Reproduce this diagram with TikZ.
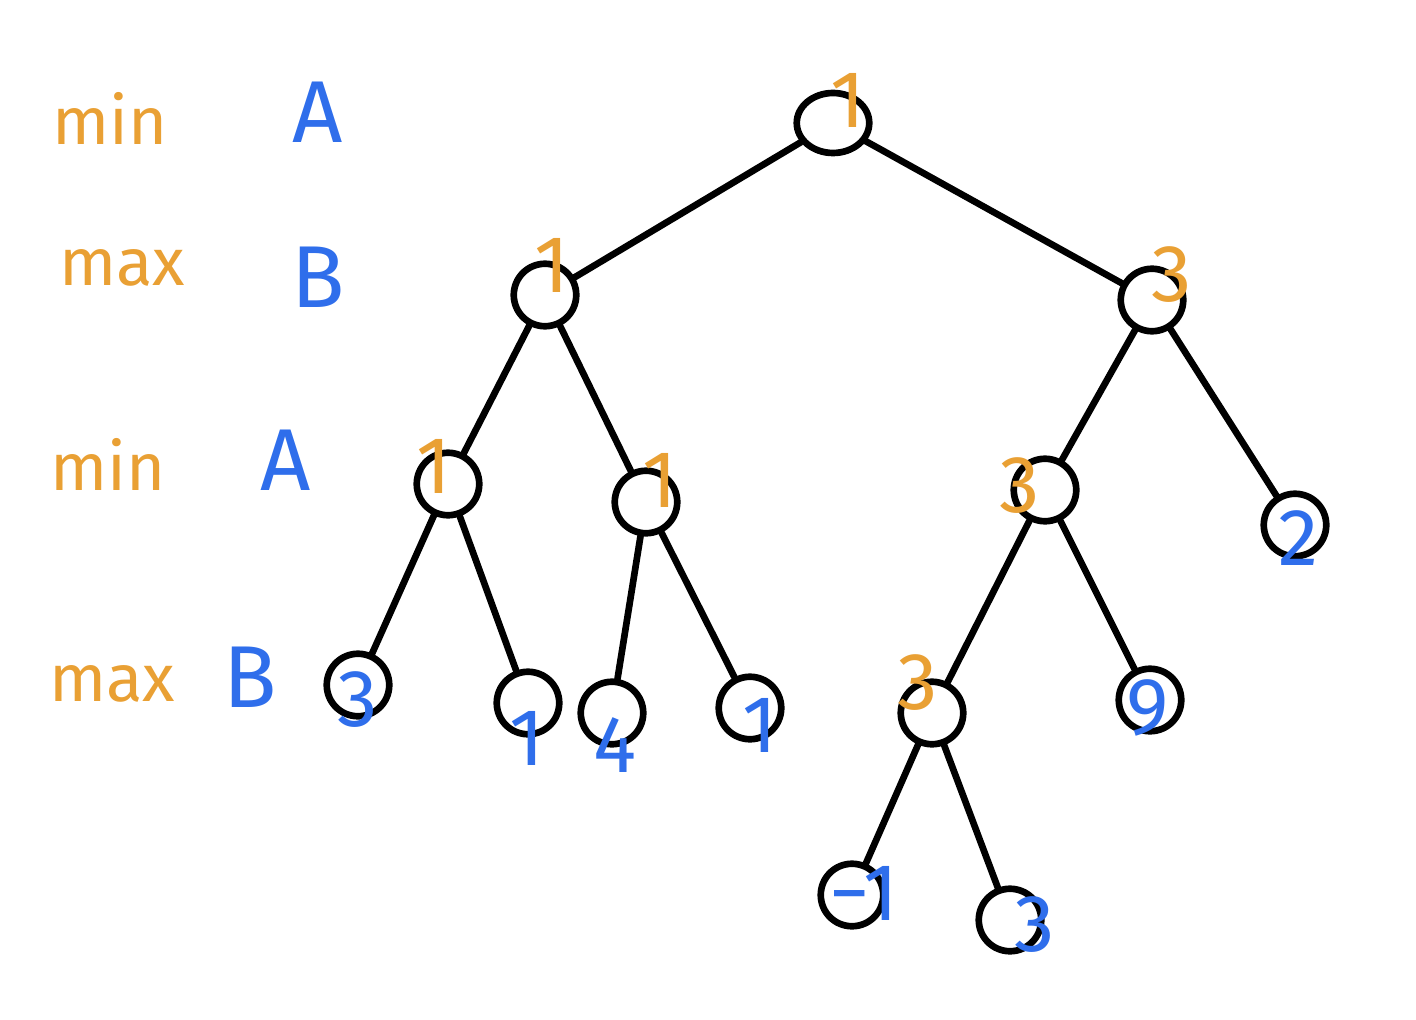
\documentclass[tikz,border=0pt]{standalone}
\usepackage{fontspec}
\setmainfont{Fira Sans}
\usepackage{xcolor}
\usetikzlibrary{positioning,shapes.geometric}
\definecolor{MinMaxOrange}{RGB}{233,160,52}
\definecolor{LeafBlue}{RGB}{47,110,235}

\begin{document}
\begin{tikzpicture}[
  x=0.02cm, y=-0.02cm,
  line width=3.8pt,
  state/.style={draw, circle, minimum size=1.25cm, inner sep=0pt},
  edge/.style={draw, line cap=round},
  lvl/.style={text=MinMaxOrange, font=\fontsize{38}{40}\selectfont},
  who/.style={text=LeafBlue, font=\fontsize{50}{52}\selectfont},
  val/.style={text=MinMaxOrange, font=\fontsize{46}{48}\selectfont},
  leafval/.style={text=LeafBlue, font=\fontsize{46}{48}\selectfont},
]
  \useasboundingbox (0,0) rectangle (1416,1020);

  % level labels
  \node[lvl] (l0) at (110,118) {min};
  \node[who] (p0) at (318,112) {A};
  \node[lvl] (l1) at (122,268) {max};
  \node[who] (p1) at (318,277) {B};
  \node[lvl] (l2) at (108,464) {min};
  \node[who] (p2) at (286,460) {A};
  \node[lvl] (l3) at (112,684) {max};
  \node[who] (p3) at (250,677) {B};

  % tree
  \node[state, ellipse, minimum width=1.45cm, minimum height=1.2cm] (root) at (833,123) {};
  \node[state] (b1) at (545,295) {};
  \node[state] (b2) at (1152,300) {};
  \node[state] (a1) at (448,484) {};
  \node[state] (a2) at (646,502) {};
  \node[state] (a3) at (1045,490) {};
  \node[state] (t2) at (1295,525) {};
  \node[state] (t3) at (358,685) {};
  \node[state] (t1) at (528,703) {};
  \node[state] (t4) at (612,713) {};
  \node[state] (t1b) at (750,708) {};
  \node[state] (b3) at (932,713) {};
  \node[state] (t9) at (1150,700) {};
  \node[state] (tm1) at (852,895) {};
  \node[state] (t3b) at (1010,920) {};

  \draw[edge] (root) -- (b1);
  \draw[edge] (root) -- (b2);
  \draw[edge] (b1) -- (a1);
  \draw[edge] (b1) -- (a2);
  \draw[edge] (b2) -- (a3);
  \draw[edge] (b2) -- (t2);
  \draw[edge] (a1) -- (t3);
  \draw[edge] (a1) -- (t1);
  \draw[edge] (a2) -- (t4);
  \draw[edge] (a2) -- (t1b);
  \draw[edge] (a3) -- (b3);
  \draw[edge] (a3) -- (t9);
  \draw[edge] (b3) -- (tm1);
  \draw[edge] (b3) -- (t3b);

  % backed-up values
  \node[val] (v0) at (848,100) {1};
  \node[val] (v1) at (552,265) {1};
  \node[val] (v2) at (1172,275) {3};
  \node[val] (v3) at (434,466) {1};
  \node[val] (v4) at (660,480) {1};
  \node[val] (v5) at (1020,486) {3};
  \node[val] (v6) at (918,683) {3};

  % leaf values
  \node[leafval] (w3) at (358,700) {3};
  \node[leafval] (w1) at (527,738) {1};
  \node[leafval] (w4) at (615,745) {4};
  \node[leafval] (w1b) at (760,725) {1};
  \node[leafval] (w9) at (1148,708) {9};
  \node[leafval] (wm1) at (864,893) {−1};
  \node[leafval] (w3b) at (1035,925) {3};
  \node[leafval] (w2) at (1298,538) {2};
\end{tikzpicture}
\end{document}
